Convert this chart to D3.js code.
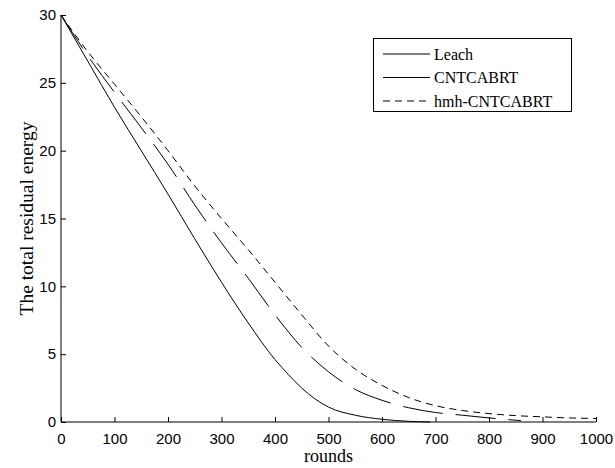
<!DOCTYPE html>
<html>
<head>
<meta charset="utf-8">
<script src="https://cdn.jsdelivr.net/npm/d3@7"></script>
<style>
  body { margin: 0; background: #fff; }
</style>
</head>
<body>
<div id="chart"></div>
<script>
// rounds / residual energy
const leachRounds = [0, 50, 100, 150, 200, 250, 300, 350, 400, 425, 450, 500, 550, 600, 650, 690];
const leachEnergy = [30, 26.6, 23.2, 20.0, 16.8, 13.5, 10.3, 7.3, 4.6, 3.5, 2.5, 1.1, 0.5, 0.2, 0.05, 0];

const cntRounds = [0, 50, 100, 150, 200, 250, 300, 350, 400, 450, 500, 550, 600, 650, 700, 750, 800, 860];
const cntEnergy = [30, 27.0, 24.3, 21.7, 19.0, 16.0, 13.2, 10.6, 7.9, 5.5, 3.7, 2.4, 1.6, 1.05, 0.7, 0.5, 0.3, 0.1];

const hmhRounds = [0, 50, 100, 150, 200, 250, 300, 350, 400, 450, 500, 550, 600, 650, 700, 750, 800, 850, 900, 950, 1000];
const hmhEnergy = [30, 27.3, 24.9, 22.5, 20.0, 17.4, 15.0, 12.7, 10.3, 7.9, 5.6, 3.9, 2.7, 1.8, 1.2, 0.85, 0.62, 0.47, 0.38, 0.3, 0.26];

const seriesNames = ["Leach", "CNTCABRT", "hmh-CNTCABRT"];
const xTicks = [0, 100, 200, 300, 400, 500, 600, 700, 800, 900, 1000];
const yTicks = [0, 5, 10, 15, 20, 25, 30];

const width = 615, height = 468;
const margin = { top: 15, right: 19, bottom: 46, left: 61 };

const svg = d3.select("#chart").append("svg")
    .attr("width", width)
    .attr("height", height);

const x = d3.scaleLinear().domain([0, 1000]).range([margin.left, width - margin.right]);
const y = d3.scaleLinear().domain([0, 30]).range([height - margin.bottom, margin.top]);

// axes, ticks pointing inward like matlab
svg.append("g")
    .attr("transform", `translate(0,${height - margin.bottom})`)
    .call(d3.axisBottom(x).tickValues(xTicks).tickSize(-5).tickPadding(11).tickFormat(d3.format("d")))
    .call(g => g.select(".domain").attr("d", `M${x(0)},0H${x(1000)}`))
    .call(g => g.selectAll("text").attr("font-family", "Liberation Sans, Arial").attr("font-size", 15).attr("fill", "#000"));

svg.append("g")
    .attr("transform", `translate(${margin.left},0)`)
    .call(d3.axisLeft(y).tickValues(yTicks).tickSize(-5).tickPadding(5))
    .call(g => g.select(".domain").attr("d", `M0,${y(0)}V${y(30)}`))
    .call(g => g.selectAll("text").attr("font-family", "Liberation Sans, Arial").attr("font-size", 15).attr("fill", "#000"));

svg.selectAll(".domain, .tick line").attr("stroke", "#000");

const line = d3.line()
    .curve(d3.curveMonotoneX)
    .x(d => x(d[0]))
    .y(d => y(d[1]));

const series = [
    { name: seriesNames[0], pts: d3.zip(leachRounds, leachEnergy), dash: null, legendDash: null },
    { name: seriesNames[1], pts: d3.zip(cntRounds, cntEnergy), dash: "40,13", legendDash: null },
    { name: seriesNames[2], pts: d3.zip(hmhRounds, hmhEnergy), dash: "7,5", legendDash: "7,5" }
];

svg.append("g").selectAll("path")
    .data(series)
    .join("path")
    .attr("d", d => line(d.pts))
    .attr("fill", "none")
    .attr("stroke", "#000")
    .attr("stroke-width", 1)
    .attr("stroke-dasharray", d => d.dash);

// axis titles
svg.append("text")
    .attr("x", (x(0) + x(1000)) / 2)
    .attr("y", 462)
    .attr("text-anchor", "middle")
    .attr("font-family", "Liberation Serif, Times New Roman")
    .attr("font-size", 18)
    .text("rounds");

svg.append("text")
    .attr("transform", `translate(33,${(y(0) + y(30)) / 2}) rotate(-90)`)
    .attr("text-anchor", "middle")
    .attr("font-family", "Liberation Serif, Times New Roman")
    .attr("font-size", 19.5)
    .text("The total residual energy");

// legend
const legend = svg.append("g");
legend.append("rect")
    .attr("x", 373.5).attr("y", 38.5)
    .attr("width", 198).attr("height", 73)
    .attr("fill", "#fff").attr("stroke", "#000");

const items = legend.selectAll("g.item")
    .data(series)
    .join("g")
    .attr("class", "item")
    .attr("transform", (d, i) => `translate(0,${54 + i * 23.5})`);

items.append("line")
    .attr("x1", 383).attr("x2", 430)
    .attr("stroke", "#000")
    .attr("stroke-dasharray", d => d.legendDash);

items.append("text")
    .attr("x", 434)
    .attr("dy", "0.35em")
    .attr("font-family", "Liberation Serif, Times New Roman")
    .attr("font-size", 16)
    .text(d => d.name);
</script>
</body>
</html>
